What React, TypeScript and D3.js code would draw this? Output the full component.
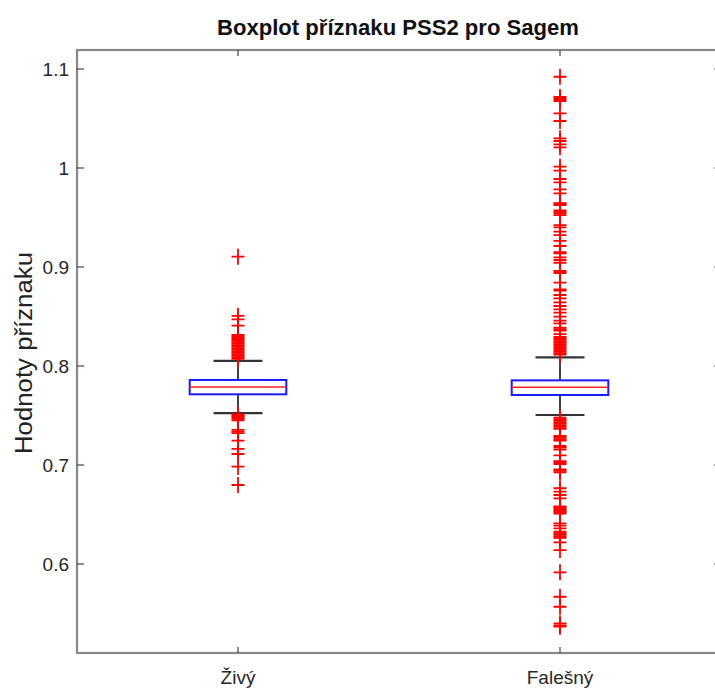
import React from "react";
import * as d3 from "d3";

// Groups on the x axis
const categories: string[] = ["Živý", "Falešný"];

// Box statistics per group (lower whisker, Q1, median, Q3, upper whisker)
const whiskerLow: number[] = [0.7525, 0.7505];
const quartile1: number[] = [0.7714, 0.7707];
const medians: number[] = [0.7788, 0.7785];
const quartile3: number[] = [0.7859, 0.7855];
const whiskerHigh: number[] = [0.8051, 0.8088];

// Outliers of the "Živý" group
const outliersZivy: number[] = [
  0.9104, 0.8507, 0.8471, 0.8407,
  0.8313, 0.8298, 0.8283, 0.8268, 0.8253, 0.8238, 0.8223, 0.8208, 0.8193,
  0.8178, 0.8163, 0.8148, 0.8133, 0.8118, 0.8103, 0.8088, 0.8073,
  0.751, 0.7495, 0.748, 0.7465, 0.745,
  0.7354, 0.7338, 0.7323, 0.7246, 0.7162, 0.7111, 0.6983, 0.6798,
];

// Outliers of the "Falešný" group
const outliersFalesny: number[] = [
  1.0922, 1.0717, 1.0697, 1.0677, 1.0552, 1.0475,
  1.03, 1.0273, 1.0239, 1.0209, 1.0013, 0.9973, 0.9889, 0.9855, 0.9785, 0.9744,
  0.9646, 0.9636, 0.9626, 0.9573, 0.9557, 0.9541, 0.9525,
  0.9424, 0.9401, 0.9357, 0.9323, 0.9263, 0.9212, 0.915, 0.9138,
  0.9098, 0.9071, 0.9043, 0.896, 0.8949, 0.8939, 0.8842, 0.8775, 0.8762,
  0.8717, 0.8684, 0.8643, 0.8606, 0.8572, 0.8539, 0.8498, 0.8458, 0.8431,
  0.8387, 0.8372, 0.8357, 0.8323,
  0.8293, 0.8278, 0.8263, 0.8248, 0.8233, 0.8218, 0.8203, 0.8188, 0.8173,
  0.8158, 0.8143, 0.8128, 0.8114,
  0.7478, 0.7463, 0.7448, 0.7433, 0.7418, 0.7403, 0.7388, 0.7373, 0.7364,
  0.7293, 0.7278, 0.726, 0.7246, 0.7192, 0.7175, 0.7155, 0.7098,
  0.704, 0.7025, 0.701, 0.6956, 0.6941, 0.6926,
  0.6765, 0.6731, 0.6697, 0.6663,
  0.6583, 0.6568, 0.6553, 0.6538, 0.6523, 0.6508,
  0.6411, 0.6387, 0.636, 0.6327, 0.6312, 0.6297, 0.6281, 0.6263,
  0.6218, 0.6141, 0.5916, 0.5669, 0.5568, 0.54, 0.538, 0.5367,
];

const outliers: number[][] = [outliersZivy, outliersFalesny];

const yTicks: number[] = [0.6, 0.7, 0.8, 0.9, 1, 1.1];
const yDomain: [number, number] = [0.5101, 1.1192];

const titleText = "Boxplot příznaku PSS2 pro Sagem";
const yLabelText = "Hodnoty příznaku";

const W = 715;
const H = 689;
const left = 77;
const right = 721;
const top = 50;
const bottom = 653;

const FONT = "'Liberation Sans', Arial, Helvetica, sans-serif";

export default function App() {
  const x = d3.scaleLinear().domain([0.5, 2.5]).range([left, right]);
  const y = d3.scaleLinear().domain(yDomain).range([bottom, top]);
  const boxHalf = x(0.15) - x(0);
  const capHalf = x(0.076) - x(0);
  const mH = 6.5;
  const mV = 8;

  return (
    <svg
      width={W}
      height={H}
      style={{ position: "absolute", left: 0, top: 0, background: "#fff" }}
      fontFamily={FONT}
    >
      <rect x={0} y={0} width={W} height={H} fill="#fff" />

      {/* title */}
      <text
        x={(left + right) / 2 - 1}
        y={35}
        textAnchor="middle"
        fontSize={22}
        fontWeight="bold"
        fill="#111"
        textLength={362}
        lengthAdjust="spacingAndGlyphs"
      >
        {titleText}
      </text>

      {/* y axis label */}
      <text
        transform={`translate(32,353) rotate(-90)`}
        textAnchor="middle"
        fontSize={23}
        fill="#222"
        textLength={202}
        lengthAdjust="spacingAndGlyphs"
      >
        {yLabelText}
      </text>

      {/* boxes */}
      {categories.map((c, i) => {
        const cx = x(i + 1);
        return (
          <g key={c}>
            {/* whiskers */}
            <line x1={cx} x2={cx} y1={y(whiskerHigh[i])} y2={y(quartile3[i])} stroke="#111" strokeWidth={1.6} />
            <line x1={cx} x2={cx} y1={y(quartile1[i])} y2={y(whiskerLow[i])} stroke="#111" strokeWidth={1.6} />
            <line x1={cx - capHalf} x2={cx + capHalf} y1={y(whiskerHigh[i])} y2={y(whiskerHigh[i])} stroke="#333" strokeWidth={2.2} />
            <line x1={cx - capHalf} x2={cx + capHalf} y1={y(whiskerLow[i])} y2={y(whiskerLow[i])} stroke="#333" strokeWidth={2.2} />
            {/* box */}
            <rect
              x={cx - boxHalf}
              y={y(quartile3[i])}
              width={boxHalf * 2}
              height={y(quartile1[i]) - y(quartile3[i])}
              fill="#fff"
              stroke="#1a1aff"
              strokeWidth={2}
            />
            <line x1={cx - boxHalf} x2={cx + boxHalf} y1={y(medians[i])} y2={y(medians[i])} stroke="#ff2020" strokeWidth={1.6} />
            {/* outliers */}
            {outliers[i].map((v, k) => {
              const py = y(v);
              return (
                <path
                  key={k}
                  d={`M${cx - mH},${py}H${cx + mH}M${cx},${py - mV}V${py + mV}`}
                  stroke="#ff0000"
                  strokeWidth={1.8}
                  fill="none"
                />
              );
            })}
          </g>
        );
      })}

      {/* axes frame */}
      <rect
        x={left}
        y={top}
        width={right - left}
        height={bottom - top}
        fill="none"
        stroke="#888"
        strokeWidth={2.2}
      />

      {/* y ticks */}
      {yTicks.map((t) => (
        <g key={t}>
          <line x1={left} x2={left + 7} y1={y(t)} y2={y(t)} stroke="#444" strokeWidth={1.2} />
          <line x1={right} x2={right - 7} y1={y(t)} y2={y(t)} stroke="#444" strokeWidth={1.2} />
          <text x={69} y={y(t)} dy="0.36em" textAnchor="end" fontSize={19} fill="#262626">
            {d3.format("~g")(t)}
          </text>
        </g>
      ))}

      {/* x ticks */}
      {categories.map((c, i) => (
        <g key={c}>
          <line x1={x(i + 1)} x2={x(i + 1)} y1={bottom} y2={bottom - 6} stroke="#444" strokeWidth={1.2} />
          <line x1={x(i + 1)} x2={x(i + 1)} y1={top} y2={top + 6} stroke="#444" strokeWidth={1.2} />
          <text x={x(i + 1)} y={684} textAnchor="middle" fontSize={19} fill="#262626">
            {c}
          </text>
        </g>
      ))}
    </svg>
  );
}
